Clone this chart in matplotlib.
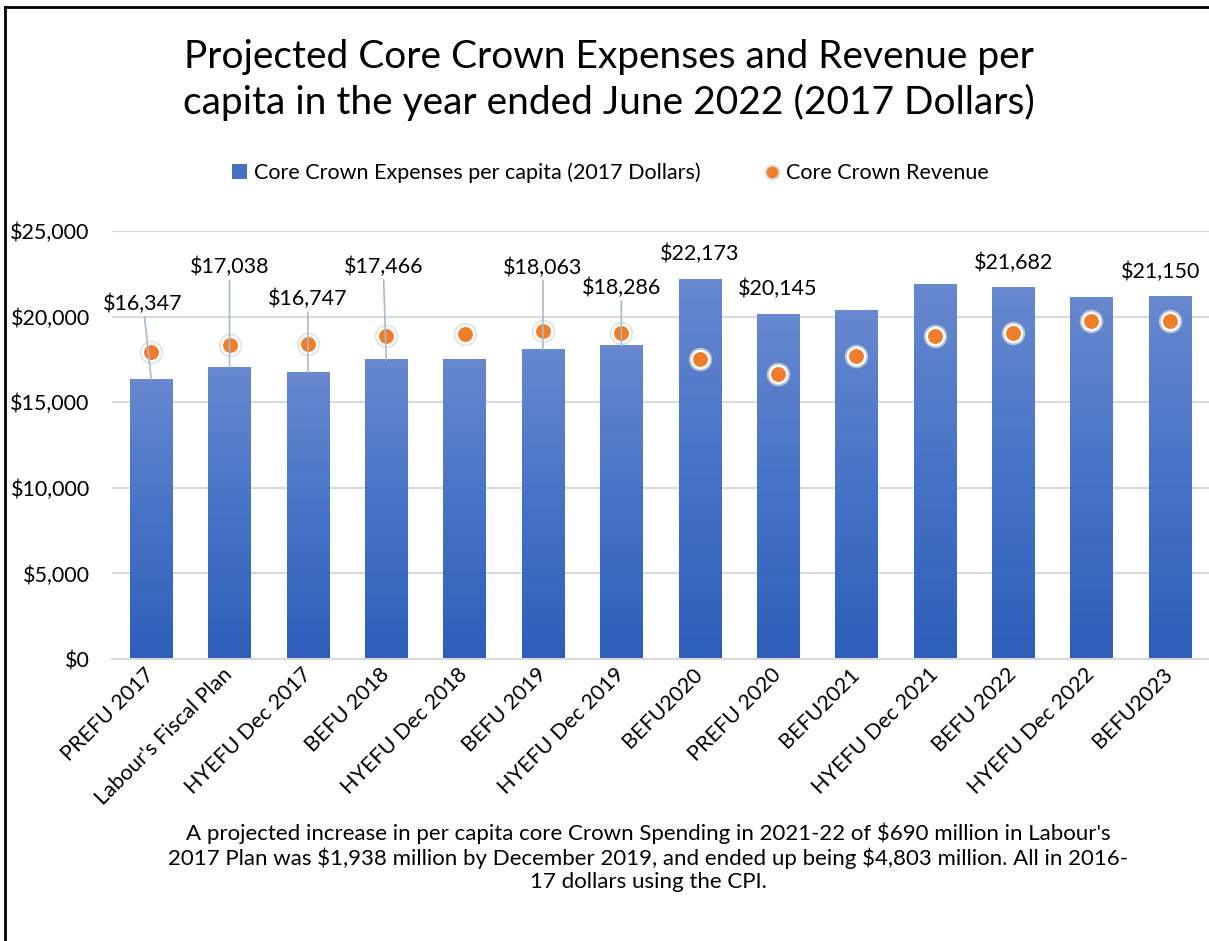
import matplotlib
matplotlib.use("Agg")
import matplotlib.pyplot as plt
import numpy as np
from matplotlib.colors import LinearSegmentedColormap
from matplotlib.lines import Line2D
from matplotlib.patches import Patch

plt.rcParams['font.family'] = ['Lato', 'DejaVu Sans']
plt.rcParams['text.parse_math'] = False

# data
categories = ["PREFU 2017", "Labour's Fiscal Plan", "HYEFU Dec 2017", "BEFU 2018",
              "HYEFU Dec 2018", "BEFU 2019", "HYEFU Dec 2019", "BEFU2020",
              "PREFU 2020", "BEFU2021", "HYEFU Dec 2021", "BEFU 2022",
              "HYEFU Dec 2022", "BEFU2023"]
expenses = [16347, 17038, 16747, 17466, 17520, 18063, 18286, 22173,
            20145, 20330, 21900, 21682, 21140, 21150]
revenue = [17950, 18340, 18400, 18890, 19000, 19180, 19060, 17500,
           16670, 17680, 18890, 19020, 19740, 19760]
# which bars carry a data label
labelled = [True, True, True, True, False, True, True, True,
            True, False, False, True, False, True]

# label offsets in pixels from the bar top (style, not data)
label_dx = [-8, 0, 0, -3, 0, 0, 0, 0, 0, 0, 0, 0, 0, -9]
label_dy = [75, 100, 73, 93, 0, 82, 58, 26, 25, 0, 0, 25, 0, 25]

fig = plt.figure(figsize=(12.09, 9.41), dpi=100)
ax = fig.add_axes([112/1209, 1 - 659/941, 1 - 112/1209, (659 - 231)/941])

x = np.arange(len(categories))
bars = ax.bar(x, expenses, width=0.54, color='none', edgecolor='none', zorder=2)

# vertical gradient on each bar
cmap = LinearSegmentedColormap.from_list('blu', ['#2D5EB8', '#4573C6', '#6888CF'])
grad = np.linspace(0, 1, 256).reshape(-1, 1)
for b in bars:
    x0 = b.get_x()
    w = b.get_width()
    h = b.get_height()
    ax.imshow(grad, extent=[x0, x0 + w, 0, h], origin='lower', aspect='auto',
              cmap=cmap, zorder=2)

# revenue dots with a soft ring
ax.plot(x, revenue, 'o', ms=16, color='#D9D9D9', alpha=0.6, zorder=3)
ax.plot(x, revenue, 'o', ms=12.5, color='#F07D2A', mec='white', mew=1.8, zorder=4)

# data labels
for i in range(len(categories)):
    if not labelled[i]:
        continue
    arrow = None
    if label_dy[i] > 40:
        arrow = dict(arrowstyle='-', color='#ADB9CA', lw=1.2, shrinkA=0, shrinkB=0)
    ax.annotate("${:,.0f}".format(expenses[i]), xy=(x[i], expenses[i]),
                xytext=(label_dx[i], label_dy[i]), textcoords='offset pixels',
                ha='center', va='center', fontsize=15.5, color='#000000',
                arrowprops=arrow, zorder=5, annotation_clip=False)

ax.set_xlim(-0.5, len(categories) - 0.5)
ax.set_ylim(0, 25000)
ax.set_yticks([0, 5000, 10000, 15000, 20000, 25000])
ax.yaxis.set_major_formatter(matplotlib.ticker.StrMethodFormatter('${x:,.0f}'))
ax.grid(axis='y', color='#D9D9D9', lw=1.5, zorder=0)
ax.set_axisbelow(True)
for s in ['top', 'right', 'left']:
    ax.spines[s].set_visible(False)
ax.spines['bottom'].set_color('#D9D9D9')
ax.spines['bottom'].set_linewidth(1.5)
ax.tick_params(axis='y', length=0, labelsize=15.5, pad=16)
ax.tick_params(axis='x', length=0, pad=9)
ax.set_xticks(x)
ax.set_xticklabels(categories, rotation=45, ha='right', va='center',
                   rotation_mode='anchor', fontsize=15.5)

fig.text(0.504, 0.915, "Projected Core Crown Expenses and Revenue per\n"
         "capita in the year ended June 2022 (2017 Dollars)",
         ha='center', va='center', fontsize=28, linespacing=1.3)

handles = [Patch(facecolor='#4472C4', edgecolor='none'),
           Line2D([], [], marker='o', ls='none', ms=10, color='#F07D2A',
                  mec='#E0E0E0', mew=1.5)]
fig.legend(handles, ["Core Crown Expenses per capita (2017 Dollars)", "Core Crown Revenue"],
           loc='center', bbox_to_anchor=(0.505, 1 - 173/941), ncol=2, frameon=False,
           fontsize=15.5, handlelength=0.7, handleheight=0.7, handletextpad=0.3,
           columnspacing=3.0)

fig.text(0.536, 1 - 857/941,
         "A projected increase in per capita core Crown Spending in 2021-22 of $690 million in Labour's\n"
         "2017 Plan was $1,938 million by December 2019, and ended up being $4,803 million. All in 2016-\n"
         "17 dollars using the CPI.",
         ha='center', va='center', fontsize=16, linespacing=1.2)

# frame lines at the top and left edge
fig.add_artist(Line2D([5/1209, 5/1209], [0, 1 - 7/941], color='black', lw=2))
fig.add_artist(Line2D([5/1209, 1], [1 - 7/941, 1 - 7/941], color='black', lw=2))

fig.savefig("out.png", dpi=100)
